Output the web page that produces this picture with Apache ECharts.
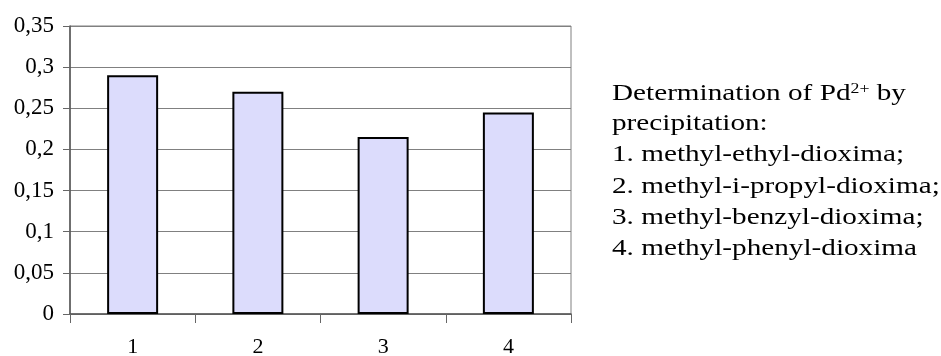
<!DOCTYPE html>
<html>
<head>
<meta charset="utf-8">
<script src="https://cdn.jsdelivr.net/npm/echarts@6/dist/echarts.min.js"></script>
<style>
  html, body { margin: 0; padding: 0; background: #fff; }
  #chart { width: 941px; height: 356px; }
</style>
</head>
<body>
<div id="chart"></div>
<script>
// Reagents (x-axis categories) and the measured values
const categories = ['1', '2', '3', '4'];
const values = [0.29, 0.27, 0.215, 0.245];

// Y-axis scale
const yMin = 0;
const yMax = 0.35;
const yStep = 0.05;

// Caption lines shown to the right of the plot
const captionTitle = ['Determination of Pd', '2+', ' by'];
const captionLines = [
  'precipitation:',
  '1. methyl-ethyl-dioxima;',
  '2. methyl-i-propyl-dioxima;',
  '3. methyl-benzyl-dioxima;',
  '4. methyl-phenyl-dioxima'
];

const serif = '"Liberation Serif", "Times New Roman", serif';
const chart = echarts.init(document.getElementById('chart'));

// caption layout: first line centred at captionMid, following lines every captionStep px
const captionX = 612;
const captionMid = 93;
const captionStep = 31.2;
const captionSize = 23;
const captionStretch = 1.27;

const captionGraphics = [{
  type: 'text',
  left: captionX,
  top: captionMid - captionSize / 2 + 1,
  scaleX: captionStretch,
  style: {
    text: '{t|' + captionTitle[0] + '}{s|' + captionTitle[1] + '}{t|' + captionTitle[2] + '}',
    rich: {
      t: { fontFamily: serif, fontSize: captionSize, fill: '#000', verticalAlign: 'bottom' },
      s: { fontFamily: serif, fontSize: 14, fill: '#000', verticalAlign: 'top', padding: [0, 0, 9, 0] }
    }
  }
}];
captionLines.forEach((line, i) => {
  captionGraphics.push({
    type: 'text',
    left: captionX,
    top: captionMid + captionStep * (i + 1) - captionSize / 2,
    scaleX: captionStretch,
    style: { text: line, fontFamily: serif, fontSize: captionSize, fill: '#000' }
  });
});

chart.setOption({
  animation: false,
  backgroundColor: '#ffffff',
  grid: {
    left: 70, right: 370, top: 26, bottom: 42,
    outerBoundsMode: 'none',
    show: true, borderColor: '#808080', borderWidth: 1, backgroundColor: 'transparent'
  },
  xAxis: {
    type: 'category',
    data: categories,
    axisLine: { lineStyle: { color: '#555', width: 1.5 } },
    axisTick: { show: true, alignWithLabel: false, length: 9, lineStyle: { color: '#666' } },
    axisLabel: { color: '#000', fontFamily: serif, fontSize: 22, margin: 22 }
  },
  yAxis: {
    type: 'value',
    min: yMin, max: yMax, interval: yStep,
    axisLine: { show: true, lineStyle: { color: '#555', width: 1.5 } },
    axisTick: { show: true, length: 7, lineStyle: { color: '#666' } },
    splitLine: { show: true, lineStyle: { color: '#808080', width: 1 } },
    axisLabel: {
      color: '#000', fontFamily: serif, fontSize: 23, margin: 16,
      formatter: v => String(parseFloat(v.toFixed(2))).replace('.', ',')
    }
  },
  series: [{
    type: 'bar',
    data: values,
    barWidth: 51,
    itemStyle: { color: '#dcdcfc', borderColor: '#000', borderWidth: 2 }
  }],
  graphic: captionGraphics
});
</script>
</body>
</html>
